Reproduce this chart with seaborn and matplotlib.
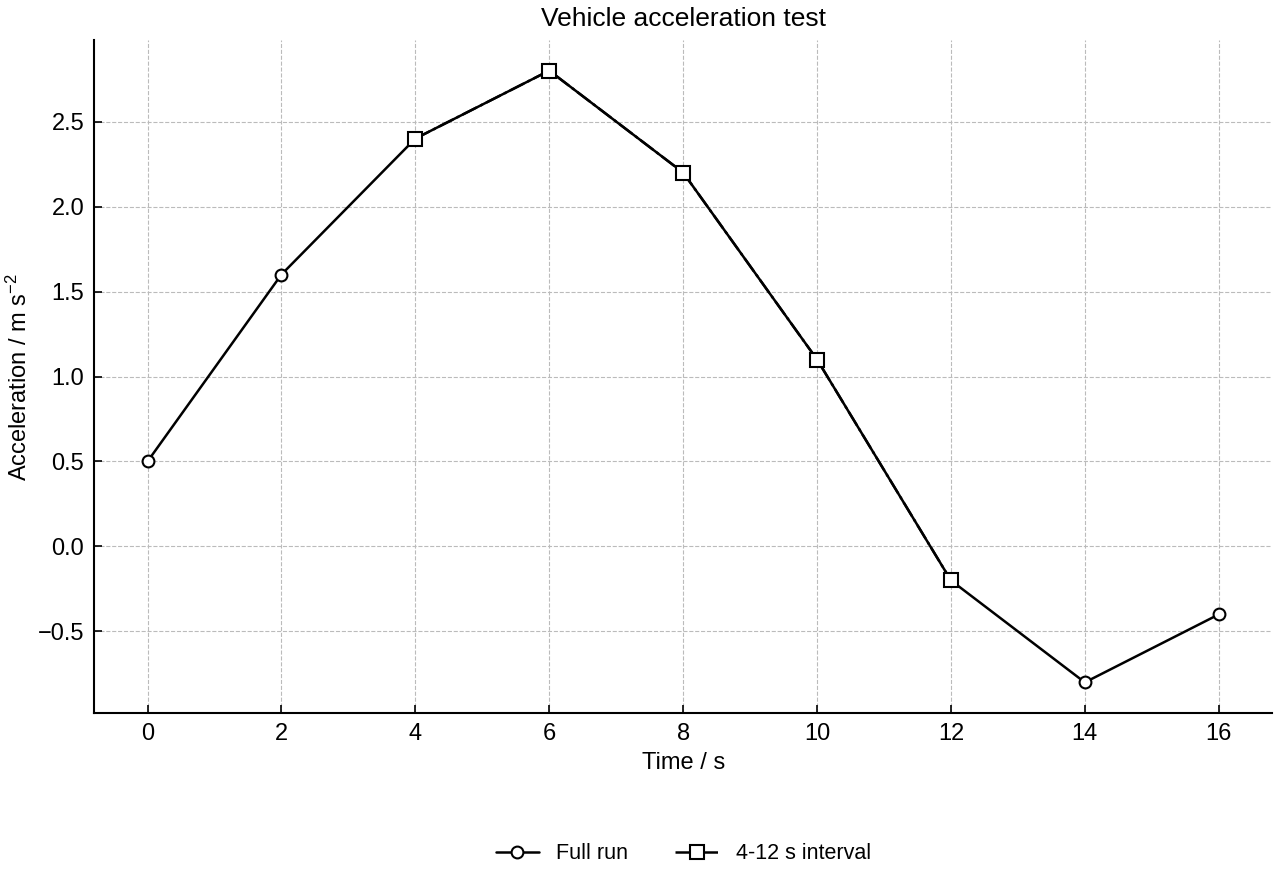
import matplotlib
matplotlib.use('Agg')
import matplotlib.pyplot as plt
import seaborn as sns
import pandas as pd

# ── data ──────────────────────────────────────────────
time_full = [0, 2, 4, 6, 8, 10, 12, 14, 16]
accel_full = [0.5, 1.6, 2.4, 2.8, 2.2, 1.1, -0.2, -0.8, -0.4]
time_interval = [4, 6, 8, 10, 12]
accel_interval = [2.4, 2.8, 2.2, 1.1, -0.2]

full = pd.DataFrame({'t': time_full, 'a': accel_full})
part = pd.DataFrame({'t': time_interval, 'a': accel_interval})

sns.set_style('ticks')
plt.rcParams['font.family'] = ['Liberation Sans', 'DejaVu Sans']
plt.rcParams['mathtext.fontset'] = 'custom'
plt.rcParams['mathtext.rm'] = 'Liberation Sans'
plt.rcParams['mathtext.it'] = 'Liberation Sans:italic'
plt.rcParams['text.color'] = 'black'
plt.rcParams['axes.labelcolor'] = 'black'
plt.rcParams['xtick.color'] = 'black'
plt.rcParams['ytick.color'] = 'black'
plt.rcParams['axes.edgecolor'] = 'black'

fig = plt.figure(figsize=(12.8, 8.8), dpi=100)
ax = fig.add_axes([0.0734, 0.1898, 0.9206, 0.7647])

sns.lineplot(data=full, x='t', y='a', ax=ax, color='black', linewidth=1.8,
             marker='o', markersize=8.5, markerfacecolor='white',
             markeredgecolor='black', markeredgewidth=1.5, legend=False)
sns.lineplot(data=part, x='t', y='a', ax=ax, color='black', linewidth=1.8,
             linestyle='-.', marker='s', markersize=9.5, markerfacecolor='white',
             markeredgecolor='black', markeredgewidth=1.5, legend=False)
lines = ax.get_lines()
lines[1].set_linestyle('-.')

ax.set_xticks(time_full)
ax.set_title('Vehicle acceleration test', fontsize=19, pad=10)
ax.set_xlabel('Time / s', fontsize=17, labelpad=5)
ax.set_ylabel('Acceleration / m s$^{-2}$', fontsize=17, labelpad=4)
ax.tick_params(direction='in', labelsize=17, length=6, width=1.2, pad=7)
ax.grid(True, linestyle='--', color='#bbbbbb', linewidth=0.8)
for side in ['top', 'right']:
    ax.spines[side].set_visible(False)
for side in ['left', 'bottom']:
    ax.spines[side].set_linewidth(1.5)

ax.legend(lines[:2], ['Full run', '4-12 s interval'], loc='center',
          bbox_to_anchor=(0.5, -0.209), ncol=2, frameon=False, fontsize=15.5,
          handlelength=2.0, columnspacing=2.2)

fig.savefig('out.png', dpi=100)
